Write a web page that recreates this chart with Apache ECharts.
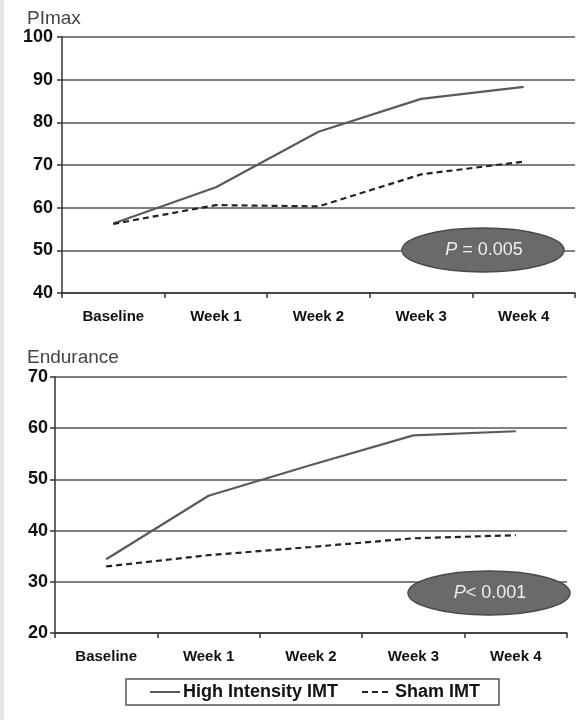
<!DOCTYPE html>
<html><head><meta charset="utf-8">
<script src="https://cdn.jsdelivr.net/npm/echarts@6/dist/echarts.min.js"></script>
<style>html,body{margin:0;padding:0;background:#fff}#c{width:576px;height:720px}</style>
</head><body><div id="c"></div>
<script>
const categories = ['Baseline', 'Week 1', 'Week 2', 'Week 3', 'Week 4'];
const plmaxHigh = [56.3, 64.8, 77.8, 85.5, 88.3];
const plmaxSham = [56.2, 60.6, 60.3, 67.8, 70.8];
const endHigh = [34.4, 46.8, 52.8, 58.6, 59.4];
const endSham = [33.0, 35.2, 36.8, 38.5, 39.1];
const plmaxTicks = {min: 40, max: 100, interval: 10};
const endTicks = {min: 20, max: 70, interval: 10};

const FONT = 'Liberation Sans, Arial, sans-serif';
const chart = echarts.init(document.getElementById('c'), null, {renderer: 'canvas'});

function xAx(gi) {
  return {
    type: 'category', gridIndex: gi, data: categories, boundaryGap: true,
    axisLine: {lineStyle: {color: '#333', width: 1.5}},
    axisTick: {show: true, length: 5, lineStyle: {color: '#333', width: 1.5}},
    axisLabel: {fontFamily: FONT, fontWeight: 'bold', fontSize: 15, color: '#111', margin: 16, interval: 0},
    splitLine: {show: false}
  };
}
function yAx(gi, t, margin) {
  return {
    type: 'value', gridIndex: gi, min: t.min, max: t.max, interval: t.interval,
    axisLine: {show: true, lineStyle: {color: '#333', width: 1.5}},
    axisTick: {show: true, length: 5, lineStyle: {color: '#333', width: 1.5}},
    axisLabel: {fontFamily: FONT, fontWeight: 'bold', fontSize: 18, color: '#111', margin: margin},
    splitLine: {show: true, lineStyle: {color: '#555', width: 1.5}}
  };
}
function line(name, gi, data, dashed) {
  return {
    name: name, type: 'line', xAxisIndex: gi, yAxisIndex: gi, data: data,
    symbol: 'none', smooth: false, animation: false,
    lineStyle: dashed ? {color: '#222', width: 2.2, type: [6, 4]} : {color: '#5a5a5a', width: 2.2, type: 'solid'},
    itemStyle: {color: dashed ? '#222' : '#5a5a5a'}
  };
}
function pEllipse(cx, cy, label) {
  return {
    type: 'group', z: 100, children: [
      {type: 'ellipse', z: 100, shape: {cx: cx, cy: cy, rx: 81, ry: 22},
        style: {fill: '#6a6a6a', stroke: '#4a4a4a', lineWidth: 1.5}},
      {type: 'text', z: 101, x: cx + 1, y: cy,
        style: {text: label, fill: '#eeeeee', font: '18px ' + FONT, align: 'center', verticalAlign: 'middle',
          rich: {i: {fontStyle: 'italic', fontSize: 18, fontFamily: FONT, fill: '#eeeeee'},
                 n: {fontSize: 18, fontFamily: FONT, fill: '#eeeeee'}}}}
    ]
  };
}

chart.setOption({
  animation: false,
  backgroundColor: '#ffffff',
  grid: [
    {left: 62, top: 37, right: 1, height: 256},
    {left: 55, top: 377, right: 9, height: 256}
  ],
  xAxis: [xAx(0), xAx(1)],
  yAxis: [yAx(0, plmaxTicks, 9), yAx(1, endTicks, 7)],
  legend: {
    left: 126, top: 679,
    data: [{name: 'High Intensity IMT'}, {name: 'Sham IMT'}],
    itemWidth: 30, itemHeight: 12, itemGap: 23,
    padding: [4, 19, 4, 23],
    borderColor: '#555', borderWidth: 1.5,
    itemStyle: {opacity: 0},
    textStyle: {fontFamily: FONT, fontWeight: 'bold', fontSize: 18, color: '#111', padding: [0, 0, 0, -2]}
  },
  series: [
    line('High Intensity IMT', 0, plmaxHigh, false),
    line('Sham IMT', 0, plmaxSham, true),
    line('High Intensity IMT', 1, endHigh, false),
    line('Sham IMT', 1, endSham, true)
  ],
  graphic: [
    {type: 'rect', shape: {x: 0, y: 0, width: 4, height: 720}, style: {fill: '#e6e6e6'}},
    {type: 'text', left: 27, top: 9, style: {text: 'PImax', font: '19px ' + FONT, fill: '#444'}},
    {type: 'text', left: 27, top: 348, style: {text: 'Endurance', font: '19px ' + FONT, fill: '#444'}},
    pEllipse(483, 250, '{i|P}{n| = 0.005}'),
    pEllipse(489, 593, '{i|P}{n|< 0.001}')
  ]
});
</script></body></html>
